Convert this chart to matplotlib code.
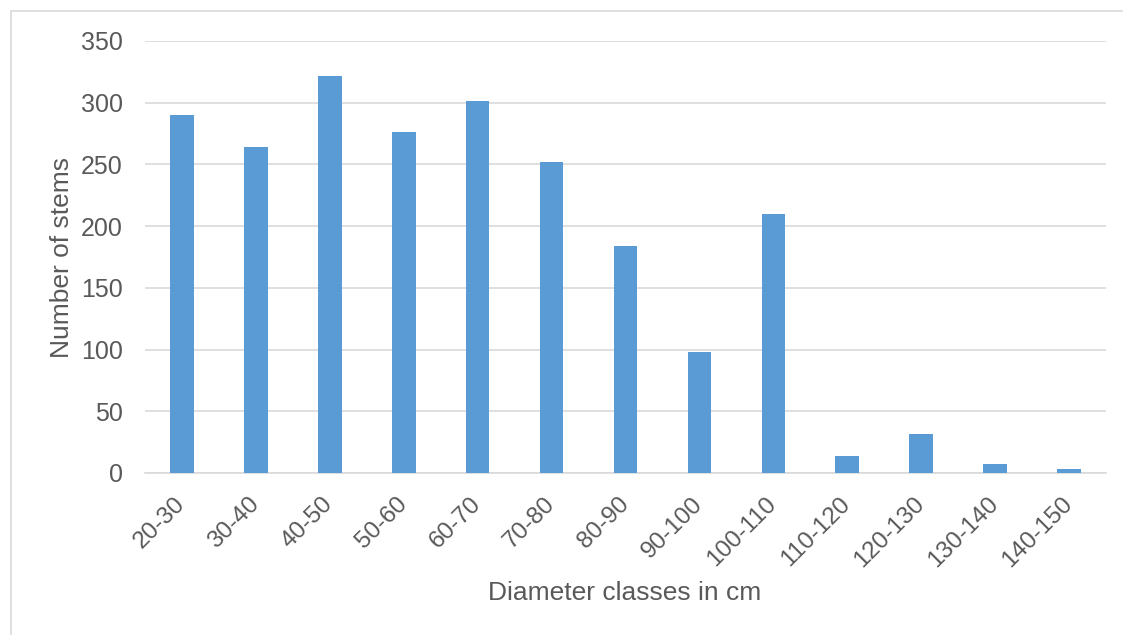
import matplotlib.pyplot as plt
from matplotlib.patches import Rectangle

# Stem counts per diameter class
classes = ['20-30', '30-40', '40-50', '50-60', '60-70', '70-80', '80-90',
           '90-100', '100-110', '110-120', '120-130', '130-140', '140-150']
stems = [290, 264, 322, 276, 301, 252, 184, 98, 210, 14, 32, 7, 3]

plt.rcParams['font.family'] = ['Liberation Sans', 'DejaVu Sans']
text_color = '#595959'

fig = plt.figure(figsize=(11.23, 6.35), dpi=100)
ax = fig.add_axes([145 / 1123, 1 - 473 / 635, (1106 - 145) / 1123, (473 - 41) / 635])

ax.bar(range(len(classes)), stems, width=0.32, color='#5B9BD5', zorder=3)

ax.set_xlim(-0.5, len(classes) - 0.5)
ax.set_ylim(0, 350)
ax.set_yticks(range(0, 351, 50))
ax.yaxis.grid(True, color='#D9D9D9', linewidth=1.2, zorder=0)
ax.tick_params(axis='both', length=0, labelsize=18, colors=text_color)
ax.tick_params(axis='y', pad=16)
ax.tick_params(axis='x', labelsize=17.5, pad=20)

ax.set_xticks(range(len(classes)))
ax.set_xticklabels(classes, rotation=45, ha='right', va='center',
                   rotation_mode='anchor')

for side in ['top', 'right', 'left']:
    ax.spines[side].set_visible(False)
ax.spines['bottom'].set_color('#D9D9D9')
ax.spines['bottom'].set_linewidth(1.2)

fig.text(62 / 1123, 1 - 257 / 635, 'Number of stems', fontsize=19, rotation=90,
         color=text_color, ha='center', va='center')
fig.text(625 / 1123, 1 - 593 / 635, 'Diameter classes in cm', fontsize=19,
         color=text_color, ha='center', va='center')

# chart frame (only left and top edges fall inside the image)
fig.patches.append(Rectangle((11 / 1123, -0.1), 1.2, 1 - 11 / 635 + 0.1,
                             transform=fig.transFigure, fill=False,
                             edgecolor='#D9D9D9', linewidth=1.2))

fig.savefig('out.png', dpi=100)
